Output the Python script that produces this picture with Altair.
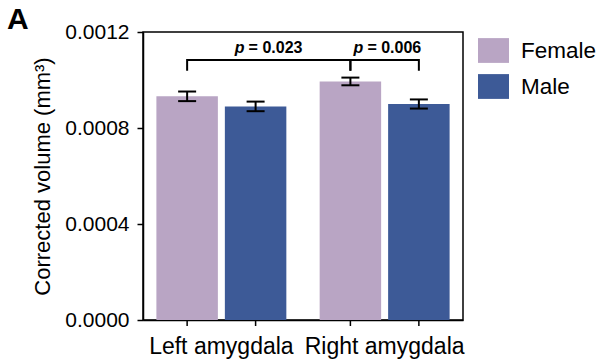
import altair as alt
import pandas as pd

# ---- data ----
regions = ["Left amygdala", "Left amygdala", "Right amygdala", "Right amygdala"]
sexes = ["Female", "Male", "Female", "Male"]
means = [0.000932, 0.000890, 0.000994, 0.000900]
sems = [0.000020, 0.000020, 0.000016, 0.000019]

region_order = ["Left amygdala", "Right amygdala"]
sex_order = ["Female", "Male"]
colors = ["#b9a5c4", "#3d5a97"]

y_ticks = [0.0, 0.0004, 0.0008, 0.0012]

# significance brackets (each bracket: leg, top, top, leg)
b1_regions = ["Left amygdala", "Left amygdala", "Right amygdala", "Right amygdala"]
b1_sexes = ["Female", "Female", "Female", "Female"]
b2_regions = ["Right amygdala", "Right amygdala", "Right amygdala", "Right amygdala"]
b2_sexes = ["Female", "Female", "Male", "Male"]
bracket_y = [0.001039, 0.001083, 0.001083, 0.001039]
bracket_order = [0, 1, 2, 3]

p_values = ["= 0.023", "= 0.006"]
p_regions = ["Left amygdala", "Right amygdala"]
p_sexes = ["Male", "Female"]
p_y = [0.001111, 0.001111]

FONT = "Liberation Sans"
Y_TITLE = "Corrected volume (mm³)"

df = pd.DataFrame({"region": regions, "sex": sexes, "mean": means, "sem": sems})
df["lo"] = df["mean"] - df["sem"]
df["hi"] = df["mean"] + df["sem"]

b1 = pd.DataFrame({"region": b1_regions, "sex": b1_sexes, "y": bracket_y, "o": bracket_order})
b2 = pd.DataFrame({"region": b2_regions, "sex": b2_sexes, "y": bracket_y, "o": bracket_order})
pdf = pd.DataFrame({"region": p_regions, "sex": p_sexes, "y": p_y, "label": p_values})

W, H = 320, 288

xscale = alt.Scale(domain=region_order, paddingInner=0.204, paddingOuter=0.082)
xaxis = alt.Axis(title=None, ticks=False, tickSize=0, labelAngle=0, labelFontSize=23,
                 labelBaseline="alphabetic", labelPadding=33, labelFont=FONT,
                 labelColor="black", domainColor="black", domainWidth=1.5)
yscale = alt.Scale(domain=[0, 0.0012], nice=False, zero=True)
yaxis = alt.Axis(values=y_ticks, format=".4f", grid=False, labelFontSize=21, labelFont=FONT,
                 labelColor="black", tickSize=6, tickWidth=1.5, tickColor="black",
                 labelPadding=8, domainColor="black", domainWidth=1.5,
                 titleFontSize=22, titleFontWeight="normal", titleFont=FONT,
                 titleColor="black", titlePadding=10)


def X():
    return alt.X("region:N", sort=region_order, scale=xscale, axis=xaxis, title=None)


def XO():
    return alt.XOffset("sex:N", sort=sex_order,
                       scale=alt.Scale(domain=sex_order, paddingInner=0.102, paddingOuter=0))


def Y(field):
    return alt.Y(field, scale=yscale, axis=yaxis, title=Y_TITLE)


bars = alt.Chart(df).mark_bar(strokeWidth=0).encode(
    x=X(), xOffset=XO(), y=Y("mean:Q"),
    color=alt.Color("sex:N", sort=sex_order,
                    scale=alt.Scale(domain=sex_order, range=colors),
                    legend=alt.Legend(title=None, orient="none", legendX=335, legendY=3,
                                      symbolType="M-1,-0.8L1,-0.8L1,0.8L-1,0.8Z",
                                      symbolSize=961, symbolStrokeWidth=0, symbolOpacity=1,
                                      labelFontSize=22.5, labelFont=FONT, labelColor="black",
                                      labelOffset=12, rowPadding=8, padding=0)),
)

err = alt.Chart(df).mark_rule(color="black", strokeWidth=2).encode(
    x=X(), xOffset=XO(), y=Y("lo:Q"), y2="hi:Q",
)
cap_shape = "M-1,0L1,0"
cap_lo = alt.Chart(df).mark_point(shape=cap_shape, size=324, filled=False, color="black",
                                  strokeWidth=2, opacity=1).encode(
    x=X(), xOffset=XO(), y=Y("lo:Q"))
cap_hi = alt.Chart(df).mark_point(shape=cap_shape, size=324, filled=False, color="black",
                                  strokeWidth=2, opacity=1).encode(
    x=X(), xOffset=XO(), y=Y("hi:Q"))

xticks = alt.Chart(df).mark_rule(color="black", strokeWidth=1.5).encode(
    x=X(), xOffset=XO(), y=alt.value(H), y2=alt.value(H + 6))

br1 = alt.Chart(b1).mark_line(color="black", strokeWidth=2, xOffset=-1, strokeJoin="miter").encode(
    x=X(), xOffset=XO(), y=Y("y:Q"), order="o:Q")
br2 = alt.Chart(b2).mark_line(color="black", strokeWidth=2, xOffset=2, strokeJoin="miter").encode(
    x=X(), xOffset=XO(), y=Y("y:Q"), order="o:Q")

p1_italic = alt.Chart(pdf.iloc[[0]]).mark_text(text="p", font=FONT, fontSize=16, fontWeight="bold",
                                             fontStyle="italic", align="right", baseline="alphabetic",
                                             dx=-11, color="black").encode(
    x=X(), xOffset=XO(), y=Y("y:Q"))
p1_rest = alt.Chart(pdf.iloc[[0]]).mark_text(font=FONT, fontSize=16, fontWeight="bold",
                                           align="left", baseline="alphabetic", dx=-7,
                                           color="black").encode(
    x=X(), xOffset=XO(), y=Y("y:Q"), text="label:N")
p2_italic = alt.Chart(pdf.iloc[[1]]).mark_text(text="p", font=FONT, fontSize=16, fontWeight="bold",
                                             fontStyle="italic", align="right", baseline="alphabetic",
                                             dx=13, color="black").encode(
    x=X(), xOffset=XO(), y=Y("y:Q"))
p2_rest = alt.Chart(pdf.iloc[[1]]).mark_text(font=FONT, fontSize=16, fontWeight="bold",
                                           align="left", baseline="alphabetic", dx=17,
                                           color="black").encode(
    x=X(), xOffset=XO(), y=Y("y:Q"), text="label:N")

chart = alt.layer(
    bars, err, cap_lo, cap_hi, xticks, br1, br2, p1_italic, p1_rest, p2_italic, p2_rest
).properties(
    width=W, height=H,
    autosize=alt.AutoSizeParams(type="none"),
    padding={"left": 143, "top": 32, "right": 137, "bottom": 40},
    title=alt.TitleParams("A", anchor="start", frame="group", dx=-136, dy=38, offset=0,
                          fontSize=30, fontWeight="bold", font=FONT, color="black",
                          baseline="alphabetic"),
).configure_view(
    stroke="black", strokeWidth=1.5
).configure_axis(grid=False)

chart.save("out.html", embed_options={"renderer": "svg", "actions": False})
